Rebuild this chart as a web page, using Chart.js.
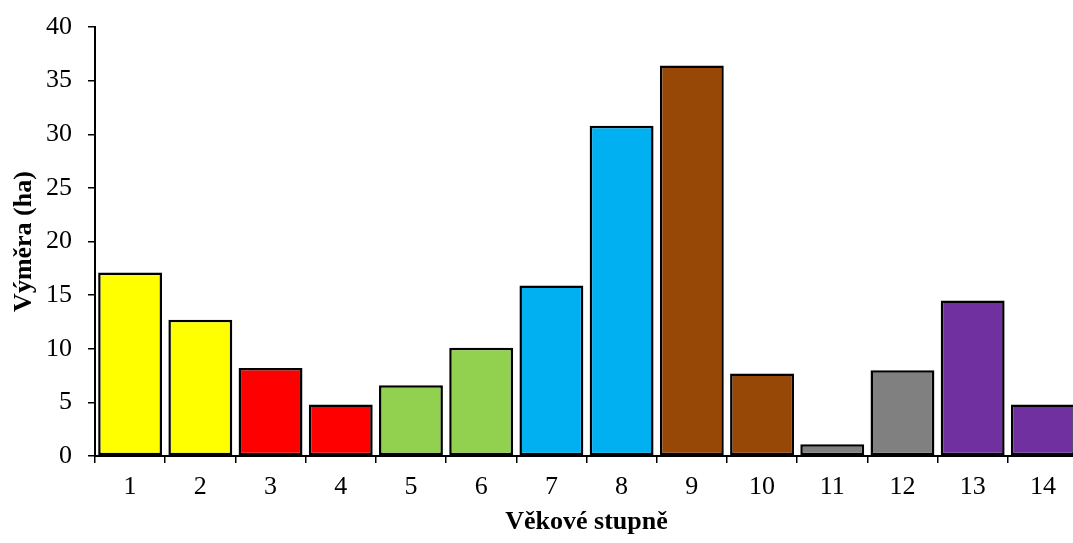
<!DOCTYPE html>
<html>
<head>
<meta charset="utf-8">
<script src="https://cdn.jsdelivr.net/npm/chart.js@4"></script>
<style>
  html, body { margin: 0; padding: 0; background: #fff; overflow: hidden; }
  #wrap { width: 1080px; height: 543px; }
</style>
</head>
<body>
<div id="wrap"><canvas id="chart"></canvas></div>
<script>
  // Výměra porostů podle věkových stupňů
  const stupne = ['1', '2', '3', '4', '5', '6', '7', '8', '9', '10', '11', '12', '13', '14'];
  const vymera = [17.1, 12.7, 8.2, 4.8, 6.6, 10.1, 15.9, 30.8, 36.4, 7.7, 1.1, 8.0, 14.5, 4.8];
  const barvy = [
    '#ffff00', '#ffff00', '#ff0000', '#ff0000', '#92d050', '#92d050', '#00b0f0',
    '#00b0f0', '#974706', '#974706', '#808080', '#808080', '#7030a0', '#7030a0'
  ];

  const FONT = '"Liberation Serif", "Times New Roman", serif';

  new Chart(document.getElementById('chart'), {
    type: 'bar',
    data: {
      labels: stupne,
      datasets: [{
        data: vymera,
        backgroundColor: barvy,
        borderColor: '#000',
        borderWidth: 2.5,
        borderSkipped: false,
        categoryPercentage: 1,
        barPercentage: 0.91,
      }],
    },
    options: {
      responsive: true,
      maintainAspectRatio: false,
      animation: false,
      layout: { padding: { top: 27, right: 2, left: 0, bottom: 0 } },
      plugins: { legend: { display: false }, tooltip: { enabled: false } },
      scales: {
        x: {
          afterFit: s => { s.height = 87; },
          grid: { display: true, drawOnChartArea: false, drawTicks: true, tickLength: 7, color: '#000', lineWidth: 1.5, offset: true },
          border: { display: true, color: '#000', width: 2 },
          ticks: { color: '#000', font: { family: FONT, size: 26 }, padding: 9 },
          title: { display: true, text: 'Věkové stupně', color: '#000', font: { family: FONT, size: 26, weight: 'bold' }, padding: { top: 3, bottom: 5 } },
        },
        y: {
          min: 0, max: 40,
          // fixed axis width; the top edge of the plot comes from layout padding only
          afterFit: s => { s.width = 95; s.paddingTop = 0; },
          grid: { display: true, drawOnChartArea: false, drawTicks: true, tickLength: 7, color: '#000', lineWidth: 1.5 },
          border: { display: true, color: '#000', width: 2 },
          ticks: { stepSize: 5, color: '#000', font: { family: FONT, size: 26 }, padding: 16 },
          title: { display: true, text: 'Výměra (ha)', color: '#000', font: { family: FONT, size: 26, weight: 'bold' }, padding: { top: 9, bottom: 0 } },
        },
      },
    },
  });
</script>
</body>
</html>
